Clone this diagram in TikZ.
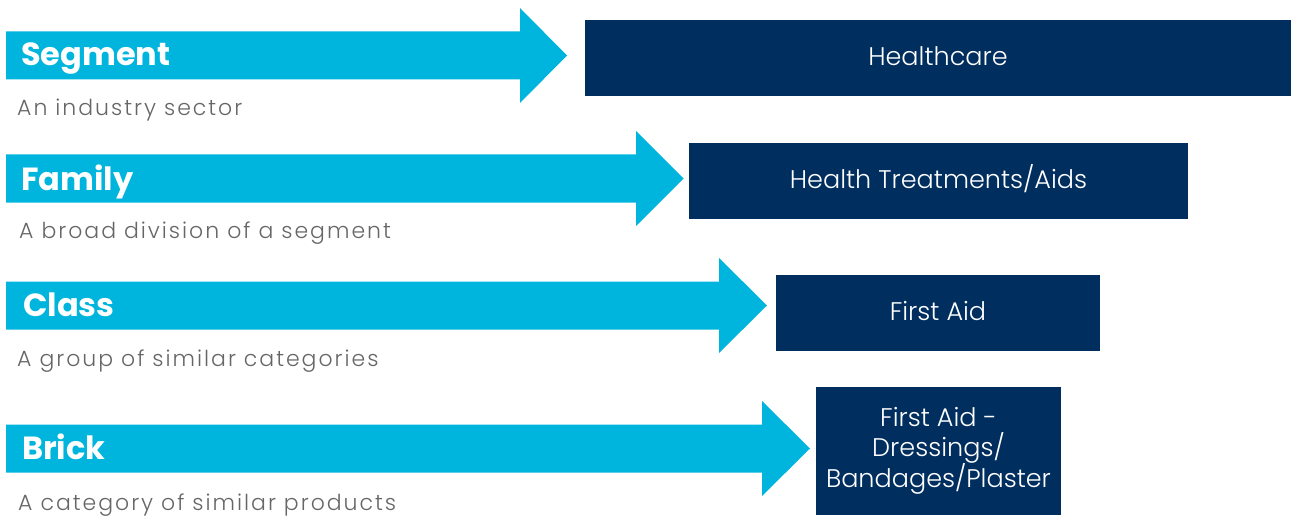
\documentclass[tikz,border=0pt]{standalone}
\usepackage{fontspec}
\setmainfont{Poppins}
\newfontfamily\lightfont{Poppins Light}
\newfontfamily\lightwidefont[LetterSpace=9]{Poppins Light}
\definecolor{arrowcyan}{HTML}{00B5DD}
\definecolor{boxnavy}{HTML}{002E5F}
\definecolor{subgray}{HTML}{666666}
\begin{document}
\begin{tikzpicture}[x=1pt,y=-1pt,
  catbox/.style={fill=boxnavy, text=white, inner sep=0pt, align=center,
    font=\lightfont\fontsize{25.5}{29.6}\selectfont},
  onebox/.style={catbox, text height=18pt, text depth=3pt},
  arrowshape/.style={fill=arrowcyan},
  titletext/.style={anchor=base west, text=white, inner sep=0pt,
    font=\bfseries\fontsize{32}{36}\selectfont},
  subtext/.style={anchor=base west, text=subgray, inner sep=0pt,
    font=\lightwidefont\fontsize{22}{24}\selectfont}]
\useasboundingbox (0,0) rectangle (1291,516);

% arrows
\fill[arrowshape] (6,31.5) -- (520,31.5) -- (520,8) -- (567,55.5) -- (520,103) -- (520,79.5) -- (6,79.5) -- cycle;
\fill[arrowshape] (6,154.5) -- (636,154.5) -- (636,131) -- (683.5,178.5) -- (636,226) -- (636,202.5) -- (6,202.5) -- cycle;
\fill[arrowshape] (6,281.5) -- (719,281.5) -- (719,258) -- (767,305.5) -- (719,353) -- (719,329.5) -- (6,329.5) -- cycle;
\fill[arrowshape] (6,424.5) -- (762,424.5) -- (762,401) -- (810,448.5) -- (762,496) -- (762,472.5) -- (6,472.5) -- cycle;

% titles and descriptions
\node[titletext] (t1) at (21,66) {Segment};
\node[titletext] (t2) at (21,190) {Family};
\node[titletext] (t3) at (23,316) {Class};
\node[titletext] (t4) at (22,459) {Brick};
\node[subtext] (s1) at (17,116) {An industry sector};
\node[subtext] (s2) at (19,238) {A broad division of a segment};
\node[subtext] (s3) at (17,366) {A group of similar categories};
\node[subtext] (s4) at (18,510) {A category of similar products};

% boxes
\node[onebox, minimum width=706pt, minimum height=76pt] (b1) at (938,58) {Healthcare};
\node[onebox, minimum width=499pt, minimum height=75.5pt] (b2) at (938.5,180.75) {Health Treatments/Aids};
\node[onebox, minimum width=324pt, minimum height=76pt] (b3) at (938,313) {First Aid};
\node[catbox, minimum width=245pt, minimum height=128pt] (b4) at (938.5,451) {First Aid -\\Dressings/\\Bandages/Plaster};
\end{tikzpicture}
\end{document}
